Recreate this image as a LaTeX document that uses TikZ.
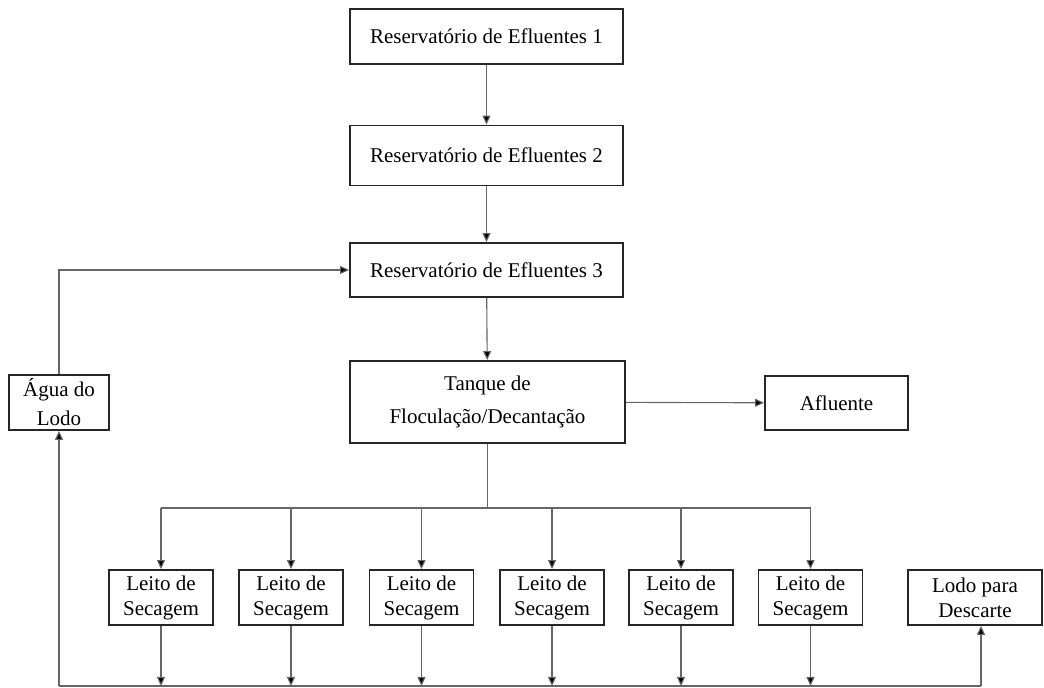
\documentclass[tikz,border=0pt]{standalone}
\usepackage{fontspec}
\setmainfont{Liberation Serif}
\usetikzlibrary{arrows.meta}
\begin{document}
\begin{tikzpicture}[x=0.5pt,y=-0.5pt,
  box/.style={draw=black!85,line width=0.9pt,fill=white,align=center,inner sep=0pt,
    font=\fontsize{10.5}{12.5}\selectfont},
  conn/.style={draw=black!60,line width=0.55pt},
  arr/.style={conn,-{Triangle[width=4pt,length=4.5pt,fill=black]}}]
\useasboundingbox (0,0) rectangle (1044,688);
\node[box,minimum width=136.5pt,minimum height=27.5pt] (r1) at (486.5,36.5) {Reservatório de Efluentes 1};
\node[box,minimum width=136.5pt,minimum height=30pt] (r2) at (486.5,155.5) {Reservatório de Efluentes 2};
\node[box,minimum width=136.5pt,minimum height=27pt] (r3) at (486.5,270) {Reservatório de Efluentes 3};
\node[box,minimum width=137.5pt,minimum height=41pt,font=\fontsize{10.5}{16.5}\selectfont] (tq) at (487.5,402) {Tanque de\\Floculação/Decantação};
\node[box,minimum width=71.5pt,minimum height=27pt] (af) at (836.5,403) {Afluente};
\node[box,minimum width=50pt,minimum height=27.5pt,font=\fontsize{10.5}{14.5}\selectfont] (ag) at (59,402.5) {Água do\\Lodo};
\foreach \i/\x in {1/161,2/291,3/421.5,4/552,5/681,6/810.5}{
  \node[box,minimum width=52pt,minimum height=27.5pt] (l\i) at (\x,597.5) {Leito de\\Secagem};
}
\node[box,minimum width=67pt,minimum height=27.5pt] (ld) at (975,597.5) {Lodo para\\Descarte};
% main chain
\draw[arr] (r1) -- (r2);
\draw[arr] (r2) -- (r3);
\draw[arr] (r3) -- (tq);
\draw[arr] (tq) -- (af);
% distribution
\coordinate (j) at (487.5,508);
\draw[conn] (tq.south) -- (j);
\draw[conn] (l1.north |- j) -- (l6.north |- j);
\foreach \i in {1,...,6}{
  \draw[arr] (l\i.north |- j) -- (l\i.north);
}
% bottom collection
\coordinate (bl) at (59,686);
\coordinate (br) at (981,686);
\draw[conn] (bl) -- (br);
\foreach \i in {1,...,6}{
  \draw[arr] (l\i.south) -- (l\i.south |- bl);
}
\draw[arr] (br) -- (br |- ld.south);
\draw[arr] (bl) -- (ag.south);
% recycle
\draw[arr] (ag.north) |- (r3.west);
\end{tikzpicture}
\end{document}
